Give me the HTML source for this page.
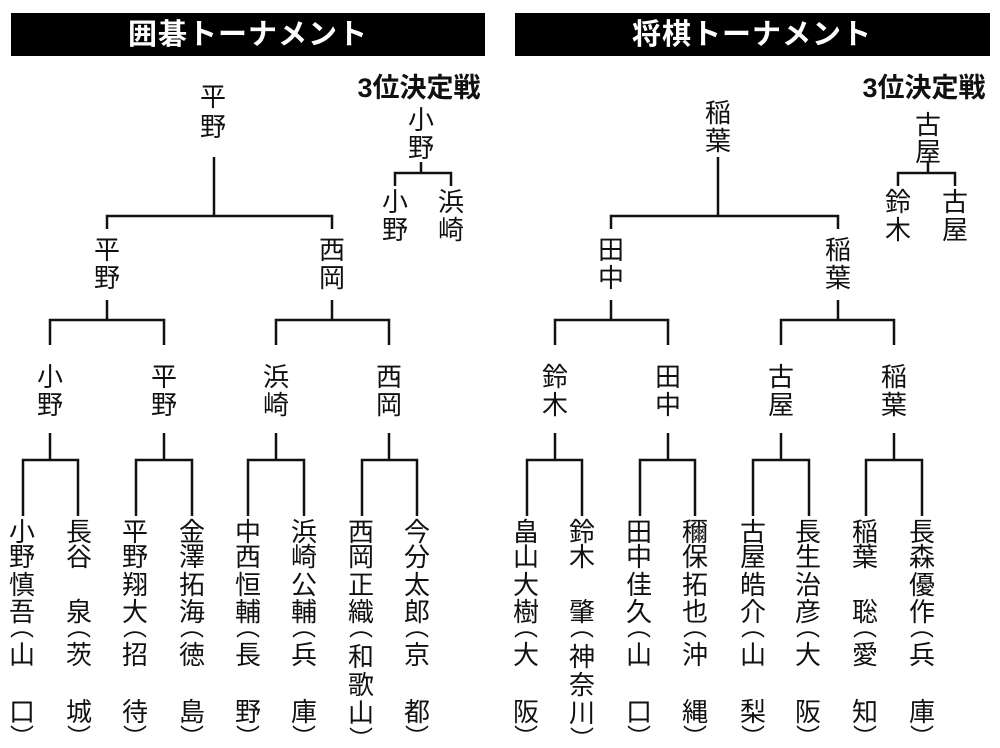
<!DOCTYPE html>
<html><head><meta charset="utf-8"><style>
html,body{margin:0;padding:0;background:#fff;}
svg{display:block;}
text{font-family:"Liberation Sans","Noto Sans CJK JP",sans-serif;fill:#111;}
.c{font-size:26px;text-anchor:middle;dominant-baseline:central;}
.h{font-size:29px;font-weight:bold;fill:#fff;text-anchor:middle;dominant-baseline:central;letter-spacing:1px;}
.t{font-size:27px;font-weight:bold;text-anchor:middle;dominant-baseline:central;}
.o{font-size:24px;text-anchor:middle;dominant-baseline:central;}
line,polyline{stroke:#111;stroke-width:2.5;fill:none;}
</style></head><body>
<svg width="1000" height="748" viewBox="0 0 1000 748">
<rect x="11" y="13" width="474" height="43" fill="#000"/>
<text class="h" x="248" y="35">囲碁トーナメント</text>
<rect x="515" y="13" width="475" height="43" fill="#000"/>
<text class="h" x="752" y="35">将棋トーナメント</text>

<text class="t" x="419" y="88">3位決定戦</text>
<text class="t" x="924" y="88">3位決定戦</text>

<text class="c" x="213" y="97">平</text><text class="c" x="213" y="127">野</text>
<line x1="214" y1="157" x2="214" y2="216"/>
<polyline points="107,229 107,216 332,216 332,229"/>
<text class="c" x="107" y="250">平</text><text class="c" x="107" y="278">野</text>
<text class="c" x="332" y="250">西</text><text class="c" x="332" y="278">岡</text>
<line x1="107" y1="300" x2="107" y2="320"/><line x1="332" y1="300" x2="332" y2="320"/>
<polyline points="50,345 50,320 164,320 164,345"/>
<polyline points="276,345 276,320 389,320 389,345"/>
<text class="c" x="50" y="377">小</text><text class="c" x="50" y="405">野</text>
<text class="c" x="164" y="377">平</text><text class="c" x="164" y="405">野</text>
<text class="c" x="276" y="377">浜</text><text class="c" x="276" y="405">崎</text>
<text class="c" x="389" y="377">西</text><text class="c" x="389" y="405">岡</text>
<line x1="50" y1="433" x2="50" y2="460"/><line x1="164" y1="433" x2="164" y2="460"/>
<line x1="276" y1="433" x2="276" y2="460"/><line x1="389" y1="433" x2="389" y2="460"/>
<polyline points="23,516 23,460 78,460 78,516"/>
<polyline points="136,516 136,460 192,460 192,516"/>
<polyline points="248,516 248,460 304,460 304,516"/>
<polyline points="362,516 362,460 417,460 417,516"/>

<text class="c" x="421" y="120">小</text><text class="c" x="421" y="148">野</text>
<line x1="421" y1="162" x2="421" y2="173"/>
<polyline points="395,186 395,173 451,173 451,186"/>
<text class="c" x="395" y="202">小</text><text class="c" x="395" y="230">野</text>
<text class="c" x="451" y="202">浜</text><text class="c" x="451" y="230">崎</text>

<text class="c" x="718" y="113">稲</text><text class="c" x="718" y="141">葉</text>
<line x1="718" y1="157" x2="718" y2="216"/>
<polyline points="611,229 611,216 838,216 838,229"/>
<text class="c" x="611" y="250">田</text><text class="c" x="611" y="278">中</text>
<text class="c" x="838" y="250">稲</text><text class="c" x="838" y="278">葉</text>
<line x1="611" y1="300" x2="611" y2="320"/><line x1="838" y1="300" x2="838" y2="320"/>
<polyline points="555,345 555,320 668,320 668,345"/>
<polyline points="781,345 781,320 894,320 894,345"/>
<text class="c" x="555" y="377">鈴</text><text class="c" x="555" y="405">木</text>
<text class="c" x="668" y="377">田</text><text class="c" x="668" y="405">中</text>
<text class="c" x="781" y="377">古</text><text class="c" x="781" y="405">屋</text>
<text class="c" x="894" y="377">稲</text><text class="c" x="894" y="405">葉</text>
<line x1="555" y1="433" x2="555" y2="460"/><line x1="668" y1="433" x2="668" y2="460"/>
<line x1="781" y1="433" x2="781" y2="460"/><line x1="894" y1="433" x2="894" y2="460"/>
<polyline points="527,516 527,460 582,460 582,516"/>
<polyline points="640,516 640,460 695,460 695,516"/>
<polyline points="753,516 753,460 809,460 809,516"/>
<polyline points="866,516 866,460 922,460 922,516"/>

<text class="c" x="928" y="125">古</text><text class="c" x="928" y="152">屋</text>
<line x1="928" y1="162" x2="928" y2="173"/>
<polyline points="898,186 898,173 955,173 955,186"/>
<text class="c" x="898" y="202">鈴</text><text class="c" x="898" y="230">木</text>
<text class="c" x="955" y="202">古</text><text class="c" x="955" y="230">屋</text>

<text class="c" x="22" y="532">小</text><text class="c" x="22" y="557">野</text><text class="c" x="22" y="585">慎</text><text class="c" x="22" y="612">吾</text><text class="c" x="22" y="655">山</text><text class="c" x="22" y="712">口</text>
<text class="c" x="79" y="532">長</text><text class="c" x="79" y="557">谷</text><text class="c" x="79" y="612">泉</text><text class="c" x="79" y="655">茨</text><text class="c" x="79" y="712">城</text>
<text class="c" x="135" y="532">平</text><text class="c" x="135" y="557">野</text><text class="c" x="135" y="585">翔</text><text class="c" x="135" y="612">大</text><text class="c" x="135" y="655">招</text><text class="c" x="135" y="712">待</text>
<text class="c" x="192" y="532">金</text><text class="c" x="192" y="557">澤</text><text class="c" x="192" y="585">拓</text><text class="c" x="192" y="612">海</text><text class="c" x="192" y="655">徳</text><text class="c" x="192" y="712">島</text>
<text class="c" x="248" y="532">中</text><text class="c" x="248" y="557">西</text><text class="c" x="248" y="585">恒</text><text class="c" x="248" y="612">輔</text><text class="c" x="248" y="655">長</text><text class="c" x="248" y="712">野</text>
<text class="c" x="304" y="532">浜</text><text class="c" x="304" y="557">崎</text><text class="c" x="304" y="585">公</text><text class="c" x="304" y="612">輔</text><text class="c" x="304" y="655">兵</text><text class="c" x="304" y="712">庫</text>
<text class="c" x="361" y="532">西</text><text class="c" x="361" y="557">岡</text><text class="c" x="361" y="585">正</text><text class="c" x="361" y="612">織</text><text class="c" x="361" y="657">和</text><text class="c" x="361" y="685">歌</text><text class="c" x="361" y="713">山</text>
<text class="c" x="417" y="532">今</text><text class="c" x="417" y="557">分</text><text class="c" x="417" y="585">太</text><text class="c" x="417" y="612">郎</text><text class="c" x="417" y="655">京</text><text class="c" x="417" y="712">都</text>

<text class="c" x="526" y="532">畠</text><text class="c" x="526" y="557">山</text><text class="c" x="526" y="585">大</text><text class="c" x="526" y="612">樹</text><text class="c" x="526" y="655">大</text><text class="c" x="526" y="712">阪</text>
<text class="c" x="582" y="532">鈴</text><text class="c" x="582" y="557">木</text><text class="c" x="582" y="612">肇</text><text class="c" x="582" y="657">神</text><text class="c" x="582" y="685">奈</text><text class="c" x="582" y="713">川</text>
<text class="c" x="639" y="532">田</text><text class="c" x="639" y="557">中</text><text class="c" x="639" y="585">佳</text><text class="c" x="639" y="612">久</text><text class="c" x="639" y="655">山</text><text class="c" x="639" y="712">口</text>
<text class="c" x="695" y="532">穪</text><text class="c" x="695" y="557">保</text><text class="c" x="695" y="585">拓</text><text class="c" x="695" y="612">也</text><text class="c" x="695" y="655">沖</text><text class="c" x="695" y="712">縄</text>
<text class="c" x="753" y="532">古</text><text class="c" x="753" y="557">屋</text><text class="c" x="753" y="585">皓</text><text class="c" x="753" y="612">介</text><text class="c" x="753" y="655">山</text><text class="c" x="753" y="712">梨</text>
<text class="c" x="808" y="532">長</text><text class="c" x="808" y="557">生</text><text class="c" x="808" y="585">治</text><text class="c" x="808" y="612">彦</text><text class="c" x="808" y="655">大</text><text class="c" x="808" y="712">阪</text>
<text class="c" x="865" y="532">稲</text><text class="c" x="865" y="557">葉</text><text class="c" x="865" y="612">聡</text><text class="c" x="865" y="655">愛</text><text class="c" x="865" y="712">知</text>
<text class="c" x="922" y="532">長</text><text class="c" x="922" y="557">森</text><text class="c" x="922" y="585">優</text><text class="c" x="922" y="612">作</text><text class="c" x="922" y="655">兵</text><text class="c" x="922" y="712">庫</text>

<g class="o">
<text class="o" x="22" y="628">︵</text><text class="o" x="22" y="738">︶</text>
<text class="o" x="79" y="628">︵</text><text class="o" x="79" y="738">︶</text>
<text class="o" x="135" y="628">︵</text><text class="o" x="135" y="738">︶</text>
<text class="o" x="192" y="628">︵</text><text class="o" x="192" y="738">︶</text>
<text class="o" x="248" y="628">︵</text><text class="o" x="248" y="738">︶</text>
<text class="o" x="304" y="628">︵</text><text class="o" x="304" y="738">︶</text>
<text class="o" x="361" y="628">︵</text><text class="o" x="361" y="740">︶</text>
<text class="o" x="417" y="628">︵</text><text class="o" x="417" y="738">︶</text>
<text class="o" x="526" y="628">︵</text><text class="o" x="526" y="738">︶</text>
<text class="o" x="582" y="628">︵</text><text class="o" x="582" y="740">︶</text>
<text class="o" x="639" y="628">︵</text><text class="o" x="639" y="738">︶</text>
<text class="o" x="695" y="628">︵</text><text class="o" x="695" y="738">︶</text>
<text class="o" x="753" y="628">︵</text><text class="o" x="753" y="738">︶</text>
<text class="o" x="808" y="628">︵</text><text class="o" x="808" y="738">︶</text>
<text class="o" x="865" y="628">︵</text><text class="o" x="865" y="738">︶</text>
<text class="o" x="922" y="628">︵</text><text class="o" x="922" y="738">︶</text>
</g>
</svg>
</body></html>
